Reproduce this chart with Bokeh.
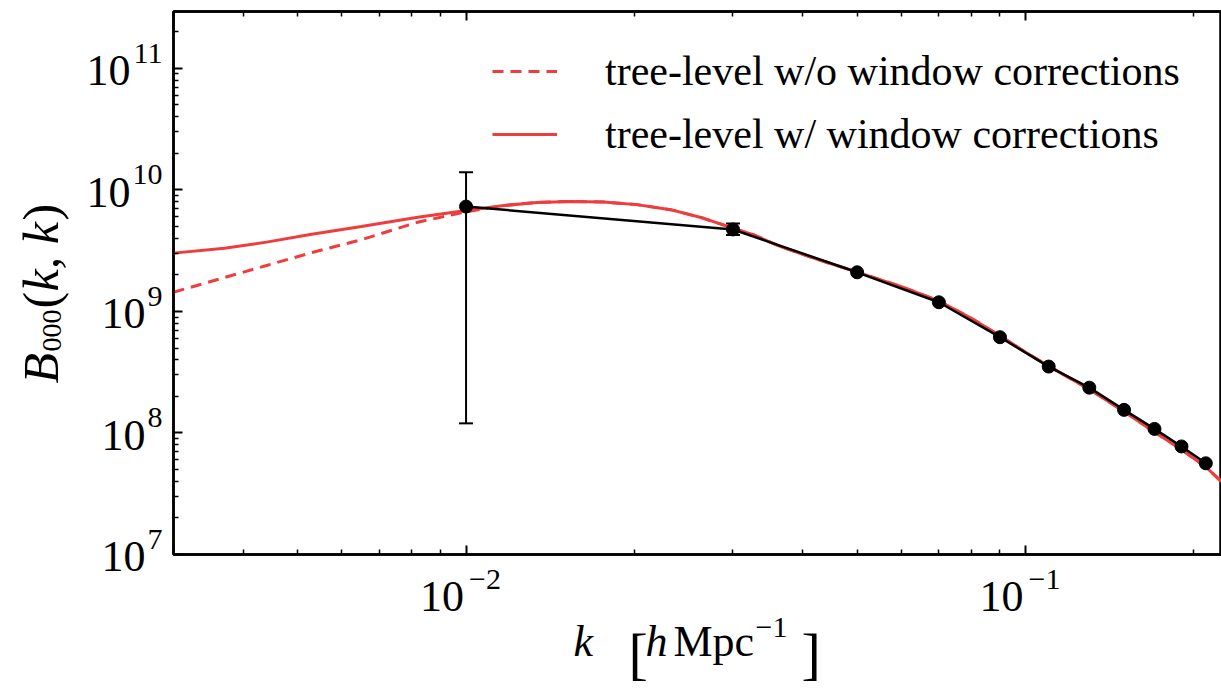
import numpy as np
from bokeh.plotting import figure
from bokeh.models import (ColumnDataSource, Whisker, TeeHead, LogAxis, Legend, LegendItem,
                          Range1d, FixedTicker)
from bokeh.core.properties import value
from bokeh.embed import file_html
from bokeh.resources import INLINE

# ---- measured data (black points) ----
k_data = [0.01, 0.03, 0.05, 0.07, 0.09, 0.11, 0.13, 0.15, 0.17, 0.19, 0.21]
B_data = [7.3e9, 4.73e9, 2.1e9, 1.19e9, 6.14e8, 3.52e8, 2.36e8, 1.55e8, 1.08e8, 7.75e7, 5.63e7]

# error bars (visible ones)
k_err = [0.01, 0.03]
B_err_lo = [1.2e8, 4.25e9]
B_err_hi = [1.4e10, 5.3e9]

# ---- tree-level model with window corrections (solid red) ----
k_win = [0.003, 0.0037, 0.0044, 0.0053, 0.0065, 0.0082, 0.01, 0.0117, 0.0134, 0.0154, 0.0176,
         0.0202, 0.0232, 0.0265, 0.03, 0.0326, 0.0364, 0.043, 0.05, 0.06, 0.07, 0.08, 0.09,
         0.1, 0.11, 0.13, 0.15, 0.17, 0.19, 0.21, 0.224]
B_win = [3.02e9, 3.31e9, 3.72e9, 4.32e9, 5.01e9, 5.96e9, 6.78e9, 7.45e9, 7.89e9, 8.05e9, 7.96e9,
         7.57e9, 6.88e9, 5.87e9, 4.85e9, 4.28e9, 3.43e9, 2.63e9, 2.11e9, 1.6e9, 1.22e9, 8.8e8,
         6.3e8, 4.62e8, 3.55e8, 2.29e8, 1.5e8, 1.02e8, 7.3e7, 5.25e7, 3.98e7]

# ---- tree-level model without window corrections (dashed red) ----
k_nowin = [0.003, 0.0037, 0.0044, 0.0053, 0.0065, 0.0082, 0.01, 0.0117, 0.0134, 0.0154, 0.0176,
           0.0202, 0.0232, 0.0265, 0.03, 0.0326, 0.0364, 0.043, 0.05, 0.06, 0.07, 0.08, 0.09,
           0.1, 0.11, 0.13, 0.15, 0.17, 0.19, 0.21, 0.224]
B_nowin = [1.44e9, 1.9e9, 2.39e9, 3.05e9, 3.89e9, 5.43e9, 6.6e9, 7.45e9, 7.89e9, 8.05e9, 7.96e9,
           7.57e9, 6.88e9, 5.87e9, 4.85e9, 4.28e9, 3.43e9, 2.63e9, 2.11e9, 1.6e9, 1.22e9, 8.8e8,
           6.3e8, 4.62e8, 3.55e8, 2.29e8, 1.5e8, 1.02e8, 7.3e7, 5.25e7, 3.98e7]

legend_labels = ["tree-level w/o window corrections", "tree-level w/ window corrections"]

# ---- ticks ----
x_major = [0.01, 0.1]
x_major_exp = ["\u22122", "\u22121"]
x_minor = [0.003, 0.004, 0.005, 0.006, 0.007, 0.008, 0.009,
           0.02, 0.03, 0.04, 0.05, 0.06, 0.07, 0.08, 0.09, 0.2]
y_major = [1e7, 1e8, 1e9, 1e10, 1e11]
y_major_exp = ["7", "8", "9", "10", "11"]
y_minor = [m * 10.0 ** e for e in range(7, 12) for m in range(2, 10) if m * 10.0 ** e < 2.94e11]

FONT = "Liberation Serif"
RED = "#f03c3c"
X0, X1 = 0.003, 0.224
Y0, Y1 = 1e7, 2.94e11
FL, FB = 173, 554   # frame left / bottom in canvas px

p = figure(width=1221, height=688, x_axis_type="log", y_axis_type="log",
           x_range=Range1d(X0, X1), y_range=Range1d(Y0, Y1),
           output_backend="svg", toolbar_location=None,
           min_border_left=FL, min_border_right=0, min_border_top=11, min_border_bottom=688 - FB)

p.xgrid.visible = False
p.ygrid.visible = False
p.outline_line_color = "black"
p.outline_line_width = 2.5
p.background_fill_color = "white"
p.border_fill_color = "white"

r_dash = p.line(k_nowin, B_nowin, line_color=RED, line_width=3, line_dash="11 7")
r_solid = p.line(k_win, B_win, line_color=RED, line_width=3)

p.line(k_data, B_data, line_color="black", line_width=2.5)
p.scatter(k_data, B_data, size=13, marker="circle", fill_color="black", line_color="black")

err_src = ColumnDataSource(dict(k=k_err, lo=B_err_lo, hi=B_err_hi))
p.add_layout(Whisker(source=err_src, base="k", lower="lo", upper="hi", dimension="height",
                     line_color="black", line_width=2,
                     upper_head=TeeHead(size=14, line_color="black", line_width=2),
                     lower_head=TeeHead(size=14, line_color="black", line_width=2)))


def style_axis(ax, ticks, tick_len, line=True):
    ax.ticker = FixedTicker(ticks=[], minor_ticks=ticks)
    ax.minor_tick_in = tick_len
    ax.minor_tick_out = 0
    ax.major_tick_in = 0
    ax.major_tick_out = 0
    ax.minor_tick_line_width = 1.5 if tick_len < 7 else 2
    ax.minor_tick_line_color = "black"
    ax.major_label_standoff = 0
    ax.axis_label = None
    if line:
        ax.axis_line_width = 2.5
        ax.axis_line_color = "black"
    else:
        ax.axis_line_color = None


style_axis(p.xaxis[0], x_minor, 5)
style_axis(p.yaxis[0], y_minor, 5)
for side, ticks, tl in (("below", x_major, 9), ("left", y_major, 9)):
    ax = LogAxis()
    style_axis(ax, ticks, tl, line=False)
    p.add_layout(ax, side)
for ticks, tl, line in ((x_minor, 5, True), (x_major, 9, False)):
    ax = LogAxis()
    style_axis(ax, ticks, tl, line=line)
    p.add_layout(ax, "above")


def add_texts(xs, ys, texts, dx, dy, size, style="normal", align="left", angle=0.0):
    # text glyphs at overlay level are not clipped to the frame; offsets in px (y down).
    # empirical baseline correction for the rendered text position
    s = 8 + 0.18 * size
    if angle == 0.0:
        dy = [d - s for d in dy] if isinstance(dy, list) else dy - s
    else:
        dx = [d - s for d in dx] if isinstance(dx, list) else dx - s
    p.text(x=xs, y=ys, text=texts, x_offset=dx, y_offset=dy, angle=angle,
           text_font=value(FONT), text_font_size=value(f"{size}px"),
           text_font_style=style, text_align=align, text_baseline="alphabetic",
           text_color="black", level="overlay")


def add_canvas_text(txt, cx, cy, size, style="normal", align="left", angle=0.0):
    add_texts([X0], [Y0], [txt], cx - FL, cy - FB, size, style, align, angle)


# x tick labels: 10^{exp}
add_texts(x_major, [Y0] * len(x_major), ["10"] * len(x_major), -2, 58, 44, align="right")
add_texts(x_major, [Y0] * len(x_major), x_major_exp, 3, 38, 30, align="left")

# y tick labels: 10^{exp}, right-aligned as a whole
y_base_dx = [(162 - 15 * len(e) - 2) - FL for e in y_major_exp]
add_texts([X0] * len(y_major), y_major, ["10"] * len(y_major), y_base_dx, 18, 44, align="right")
add_texts([X0] * len(y_major), y_major, y_major_exp, 162 - FL, -2, 30, align="right")

# x axis label: k [h Mpc^-1]
add_canvas_text("k", 573, 657, 44, style="italic")
add_canvas_text("[", 628, 671, 58)
add_canvas_text("h", 645, 657, 44, style="italic")
add_canvas_text("Mpc", 673, 657, 44)
add_canvas_text("\u22121", 755, 640, 30)
add_canvas_text("]", 801, 671, 58)

# y axis label: B_000(k, k), rotated
ROT = np.pi / 2
add_canvas_text("B", 57, 383, 50, style="italic", angle=ROT)
add_canvas_text("000", 65, 351, 28, angle=ROT)
add_canvas_text("(", 57, 308, 50, angle=ROT)
add_canvas_text("k, k", 57, 291, 50, style="italic", angle=ROT)
add_canvas_text(")", 57, 220, 50, angle=ROT)

legend = Legend(items=[LegendItem(label=legend_labels[0], renderers=[r_dash]),
                       LegendItem(label=legend_labels[1], renderers=[r_solid])],
                location=(319, 396), border_line_color=None, background_fill_alpha=0,
                glyph_width=65, glyph_height=40, label_standoff=48,
                label_text_font=FONT, label_text_font_size="42px", label_text_color="black",
                padding=0, margin=0, spacing=15)
p.add_layout(legend)

open("out.html", "w").write(file_html(p, INLINE))
